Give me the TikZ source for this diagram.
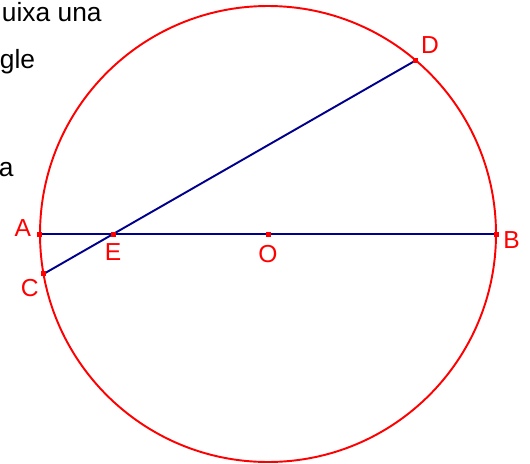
\documentclass[tikz,border=0pt]{standalone}
\usepackage{fontspec}
\setmainfont{Liberation Sans}
\usetikzlibrary{positioning}
\definecolor{blaufosc}{RGB}{0,0,140}
\tikzset{
  etiq/.style={text=red,inner sep=0pt,font=\fontsize{14}{17}\selectfont},
  enunciat/.style={inner sep=0pt,anchor=base east,font=\fontsize{15}{18}\selectfont},
  punt/.style={fill=red}
}
\begin{document}
\begin{tikzpicture}[x=1cm,y=1cm,line join=round,line cap=round]

  % ---- marges de la figura ---------------------------------------------------
  \useasboundingbox (-5.36,-4.58) rectangle (5.24,4.68);

  % ---- restes de l'enunciat, tallat pel marge --------------------------------
  \node[enunciat] (t1) at (-3.32,4.24) {uixa una};
  \node[enunciat] (t2) at (-4.65,3.32) {gle};
  \node[enunciat] (t3) at (-5.08,1.16) {a};

  % ---- la circumferencia de centre O ------------------------------------------
  \coordinate (O) at (0,0);
  \draw[red,line width=1.1pt] (O) circle (4.56);

  % ---- els punts sobre la circumferencia ---------------------------------------
  \coordinate (A) at (180:4.56);
  \coordinate (B) at (0:4.56);
  \coordinate (C) at (190.1:4.56);
  \coordinate (D) at (49.6:4.56);
  \coordinate (E) at (intersection of C--D and A--B);

  % ---- diametre AB i corda CD ---------------------------------------------------
  \draw[blaufosc,line width=1.1pt] (A) -- (B);
  \draw[blaufosc,line width=1.1pt] (C) -- (D);

  % ---- els punts, petits quadrats vermells -------------------------------------
  \foreach \p in {A,B,C,D,E,O}{
    \fill[punt] ([shift={(-0.05,-0.05)}]\p) rectangle ([shift={(0.05,0.05)}]\p);
  }

  % ---- noms dels punts ----------------------------------------------------------
  \node[etiq,left=0.17cm of A,yshift=0.12cm] (lA) {A};
  \node[etiq,right=0.14cm of B,yshift=-0.12cm] (lB) {B};
  \node[etiq,below left=0.1cm and 0.09cm of C] (lC) {C};
  \node[etiq,above right=0.14cm and 0.1cm of D] (lD) {D};
  \node[etiq,below=0.18cm of E] (lE) {E};
  \node[etiq,below=0.22cm of O] (lO) {O};

\end{tikzpicture}
\end{document}
